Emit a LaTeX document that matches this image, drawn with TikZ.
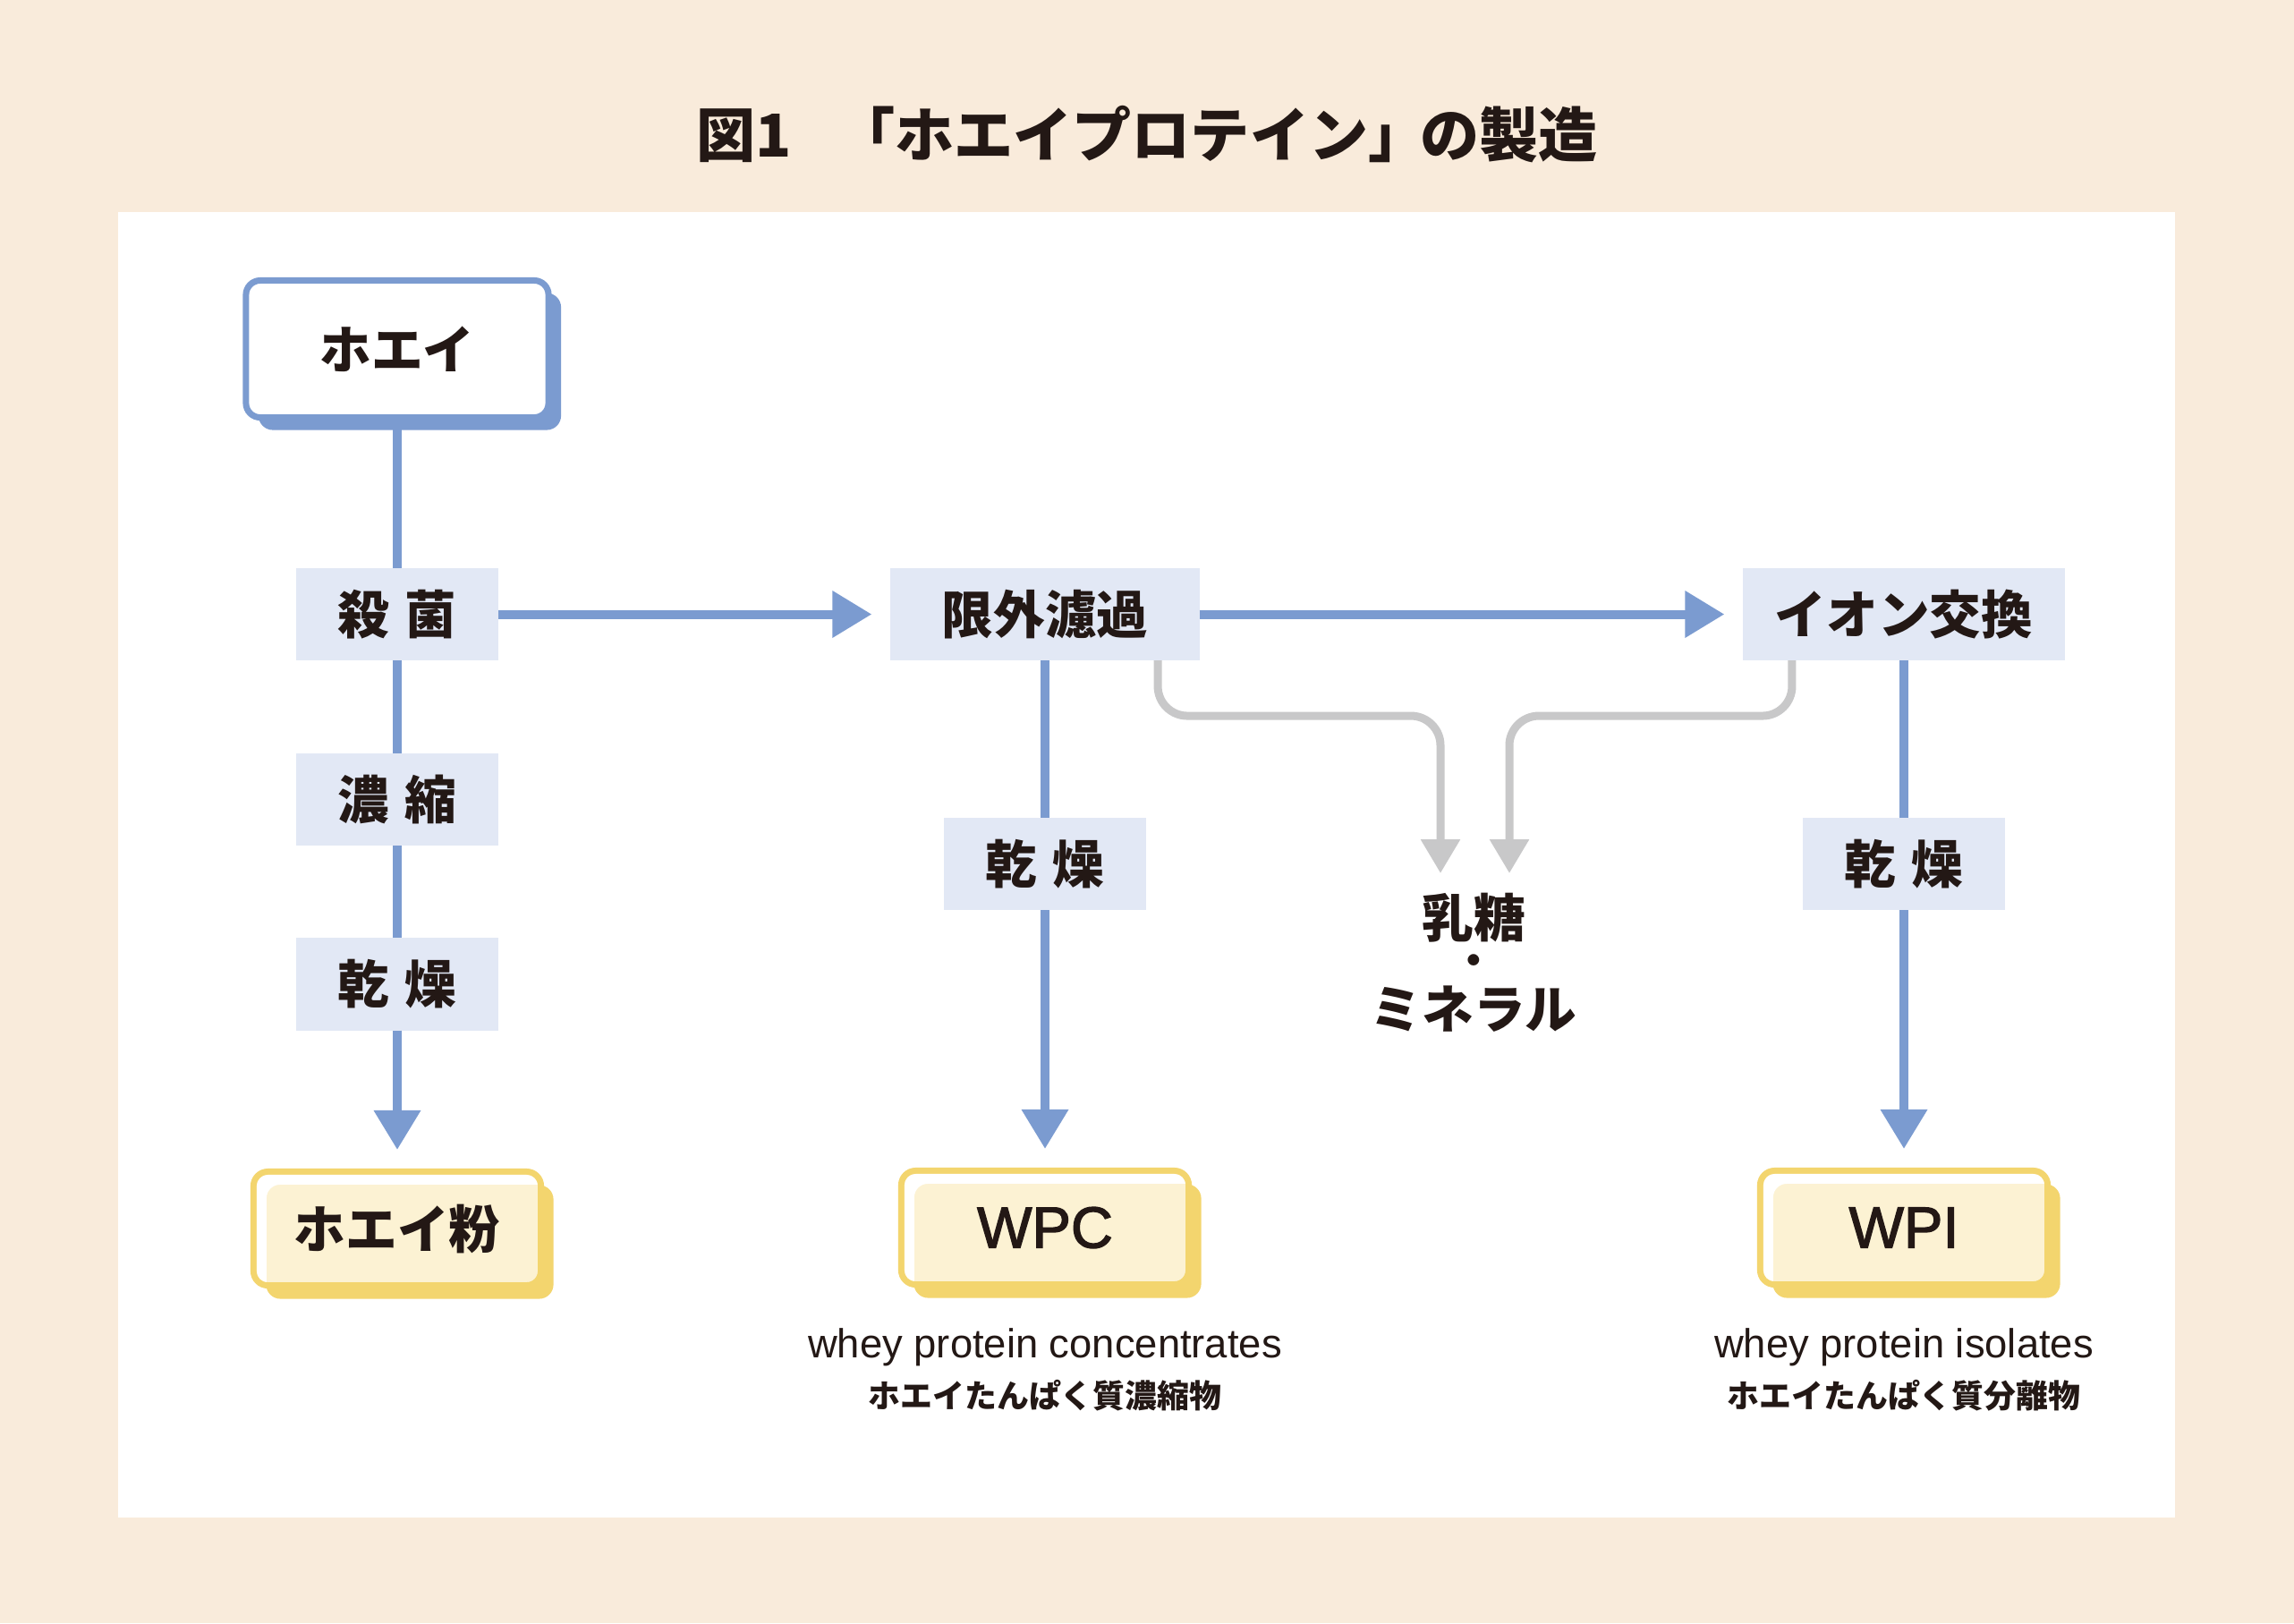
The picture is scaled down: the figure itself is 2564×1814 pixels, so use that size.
\documentclass[tikz,border=0pt]{standalone}
\usepackage{fontspec}
\setmainfont{Noto Sans CJK JP}
\newfontfamily\lat{Liberation Sans}
\newfontfamily\latmed[FakeBold=2]{Liberation Sans}
\usetikzlibrary{arrows.meta,shadows,calc}
\definecolor{bgbeige}{HTML}{F9EBDB}
\definecolor{myblue}{HTML}{7B9BD0}
\definecolor{lblue}{HTML}{E2E8F5}
\definecolor{mygray}{HTML}{C8C8C9}
\definecolor{yel}{HTML}{F3D56E}
\definecolor{cream}{HTML}{FCF2D3}
\definecolor{ink}{HTML}{231815}
\newcommand\prodring[1]{%
  \begin{scope}
    \clip[rounded corners=0.125cm] ([shift={(3.5,3.5)}]#1.north west) rectangle ([shift={(-3.5,-3.5)}]#1.south east);
    \fill[white, even odd rule] ([shift={(-10,-10)}]#1.north west) rectangle ([shift={(10,10)}]#1.south east)
      [rounded corners=0.15cm] ([shift={(14.5,14.5)}]#1.north west) rectangle ([shift={(10,10)}]#1.south east);
  \end{scope}}
\begin{document}
\begin{tikzpicture}[x=0.01cm,y=-0.01cm,
  stepbox/.style={fill=lblue, inner sep=0pt, outer sep=0pt, minimum width=2.26cm, minimum height=1.03cm,
    text=ink, font=\fontsize{16.4}{20}\selectfont\bfseries},
  startbox/.style={draw=myblue, fill=white, line width=0.07cm, rounded corners=0.16cm, inner sep=0pt, outer sep=0pt,
    minimum width=3.38cm, minimum height=1.53cm, text=ink, font=\fontsize{16.4}{20}\selectfont\bfseries,
    drop shadow={shadow xshift=0.14cm, shadow yshift=-0.14cm, fill=myblue, opacity=1}},
  prodbox/.style={draw=yel, fill=cream, line width=0.07cm, rounded corners=0.16cm, inner sep=0pt, outer sep=0pt,
    minimum width=3.21cm, minimum height=1.27cm, text=ink,
    drop shadow={shadow xshift=0.14cm, shadow yshift=-0.15cm, fill=yel, opacity=1}},
  jpfont/.style={font=\fontsize{16.4}{20}\selectfont\bfseries},
  latbig/.style={font=\latmed\fontsize{18.5}{22}\selectfont},
  titletext/.style={text=ink, inner sep=0pt, font=\fontsize{18.8}{22}\selectfont\bfseries},
  sublat/.style={text=ink, inner sep=0pt, font=\lat\fontsize{12.9}{15}\selectfont},
  subjp/.style={text=ink, inner sep=0pt, font=\fontsize{10.2}{12}\selectfont\bfseries},
  lactext/.style={text=ink, inner sep=0pt, font=\fontsize{16.4}{18}\selectfont\bfseries},
  dottext/.style={text=ink, inner sep=0pt, font=\fontsize{13}{14}\selectfont\bfseries},
  flow/.style={draw=myblue, line width=0.1cm},
  flowarr/.style={flow, -{Triangle[length=0.44cm,width=0.5cm]}},
  grayarr/.style={draw=mygray, line width=0.09cm, rounded corners=0.33cm, -{Triangle[length=0.38cm,width=0.42cm]}}
]
\useasboundingbox (0,0) rectangle (2564,1814);
\fill[bgbeige] (0,0) rectangle (2564,1814);
\fill[white] (132,237) rectangle (2431,1696);

\node[titletext] (title) at (1282,150) {図1\hspace{0.75em}「ホエイプロテイン」\hspace{-0.12em}の製造};

% left column
\node[startbox] (whey) at (444,390) {ホエイ};
\node[stepbox] (s1) at (444,686.5) {殺\hspace{0.3em}菌};
\node[stepbox] (s2) at (444,893.5) {濃\hspace{0.3em}縮};
\node[stepbox] (s3) at (444,1100) {乾\hspace{0.3em}燥};
\node[prodbox] (powder) at (444,1373) {};
\prodring{powder}
\node[jpfont, text=ink] (powdert) at (powder) {ホエイ粉};

% middle column
\node[stepbox, minimum width=3.45cm] (uf) at (1168,686.5) {限外濾過};
\node[stepbox] (m3) at (1168,965.5) {乾\hspace{0.3em}燥};
\node[prodbox] (wpc) at (1168,1372) {};
\prodring{wpc}
\node[latbig, text=ink] (wpct) at (wpc) {WPC};
\node[sublat] (wpcen) at (1168,1506) {whey protein concentrates};
\node[subjp] (wpcjp) at (1168,1560) {ホエイたんぱく質濃縮物};

% right column
\node[stepbox, minimum width=3.59cm] (ion) at (2128,686.5) {イオン交換};
\node[stepbox] (r3) at (2128,965.5) {乾\hspace{0.3em}燥};
\node[prodbox] (wpi) at (2128,1372) {};
\prodring{wpi}
\node[latbig, text=ink] (wpit) at (wpi) {WPI};
\node[sublat] (wpien) at (2128,1506) {whey protein isolates};
\node[subjp] (wpijp) at (2128,1560) {ホエイたんぱく質分離物};

% by-products
\node[lactext] (lac1) at (1647,1026) {乳糖};
\node[dottext] (lacdot) at (1647,1079) {・};
\node[lactext] (lac2) at (1647,1128) {ミネラル};

% connectors
\draw[flow] (whey.south) -- (s1.north);
\draw[flow] (s1.south) -- (s2.north);
\draw[flow] (s2.south) -- (s3.north);
\draw[flowarr, shorten >=0.245cm] (s3.south) -- (powder.north);
\draw[flowarr, shorten >=0.21cm] (s1.east) -- (uf.west);
\draw[flowarr, shorten >=0.21cm] (uf.east) -- (ion.west);
\draw[flow] (uf.south) -- (m3.north);
\draw[flowarr, shorten >=0.245cm] (m3.south) -- (wpc.north);
\draw[flow] (ion.south) -- (r3.north);
\draw[flowarr, shorten >=0.245cm] (r3.south) -- (wpi.north);

\coordinate (gl) at (1610,976);
\coordinate (gr) at (1687,976);
\draw[grayarr] ([xshift=1.26cm]uf.south) -- ++(0,62) -| (gl);
\draw[grayarr] ([xshift=-1.25cm]ion.south) -- ++(0,62) -| (gr);
\end{tikzpicture}
\end{document}
